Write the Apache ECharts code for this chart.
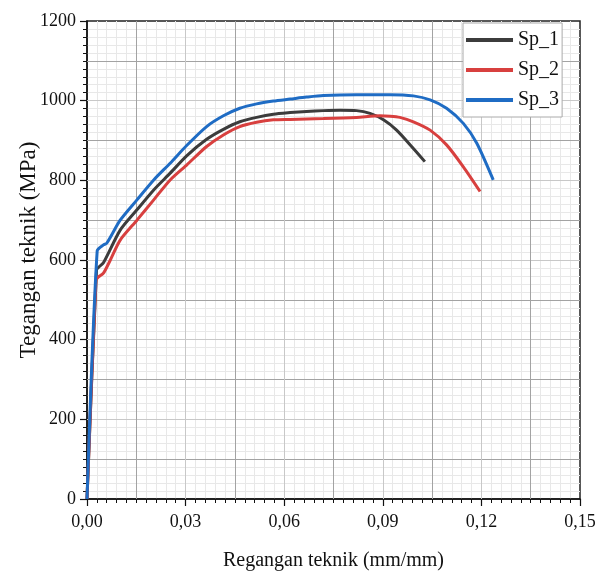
<!DOCTYPE html>
<html>
<head>
<meta charset="utf-8">
<style>html,body{margin:0;padding:0;background:#fff;}#chart{width:602px;height:572px;}</style>
<script src="https://cdn.jsdelivr.net/npm/echarts@6/dist/echarts.min.js"></script>
</head>
<body>
<div id="chart"></div>
<script>
// ---- data ----
var seriesNames = ['Sp_1', 'Sp_2', 'Sp_3'];
var sp1Strain = [0, 0.0029, 0.0037, 0.005, 0.0101, 0.0152, 0.0203, 0.0253, 0.0304, 0.0364, 0.0415, 0.0465, 0.0516, 0.0567, 0.0618, 0.0668, 0.0719, 0.077, 0.082, 0.0861, 0.0902, 0.0942, 0.0993, 0.1028];
var sp1Stress = [0, 575, 583, 593, 675, 726, 776, 818, 862, 903, 928, 947, 958, 966, 970, 973, 975, 976, 975, 968, 952, 926, 880, 847];
var sp2Strain = [0, 0.0027, 0.0034, 0.005, 0.0071, 0.0101, 0.0152, 0.0203, 0.0253, 0.0304, 0.0364, 0.0415, 0.0465, 0.0516, 0.0567, 0.0618, 0.0719, 0.082, 0.0891, 0.0922, 0.0952, 0.0993, 0.1044, 0.1094, 0.1145, 0.1196];
var sp2Stress = [0, 548, 557, 567, 600, 650, 700, 751, 801, 839, 885, 914, 935, 946, 952, 953, 955, 958, 962, 961, 958, 947, 926, 889, 834, 772];
var sp3Strain = [0, 0.0031, 0.005, 0.006, 0.0101, 0.0152, 0.0203, 0.0253, 0.0304, 0.0364, 0.0415, 0.0465, 0.0516, 0.0567, 0.0618, 0.0668, 0.0719, 0.082, 0.0891, 0.0922, 0.0993, 0.1044, 0.1094, 0.1145, 0.1186, 0.1236];
var sp3Stress = [0, 623, 638, 642, 700, 751, 801, 843, 888, 935, 962, 981, 992, 999, 1004, 1009, 1013, 1015, 1015, 1015, 1012, 1002, 981, 943, 893, 801];
var xTickLabels = ['0,00', '0,03', '0,06', '0,09', '0,12', '0,15'];
var yTickLabels = ['0', '200', '400', '600', '800', '1000', '1200'];
var xTitle = 'Regangan teknik (mm/mm)';
var yTitle = 'Tegangan teknik (MPa)';

function pairs(xs, ys) { return xs.map(function (x, i) { return [x, ys[i]]; }); }

var FONT = "'Liberation Serif', 'Times New Roman', serif";
var colors = ['#3c3c3c', '#d8403f', '#1f6cc4'];

var chart = echarts.init(document.getElementById('chart'), null, { renderer: 'canvas' });
function mkSeries(i, xs, ys) {
  return { name: seriesNames[i], type: 'line', data: pairs(xs, ys), symbol: 'none', showSymbol: false,
    smooth: 0.25, z: 3,
    lineStyle: { color: colors[i], width: 3 }, itemStyle: { color: colors[i] } };
}
chart.setOption({
  animation: false,
  backgroundColor: '#fff',
  grid: { left: 87, top: 21, right: 22, bottom: 73, outerBoundsMode: 'none', containLabel: false,
    show: true, borderColor: '#222', borderWidth: 1.5, backgroundColor: 'transparent' },
  legend: {
    data: seriesNames, orient: 'vertical', left: 463, top: 23,
    icon: 'rect', itemWidth: 47, itemHeight: 4, itemGap: 10, padding: [7, 3, 7, 3],
    backgroundColor: '#fff', borderColor: '#aaa', borderWidth: 1, borderRadius: 0,
    textStyle: { fontFamily: FONT, fontSize: 20, color: '#111', lineHeight: 20, height: 20 }
  },
  xAxis: [
    {
      type: 'value', min: 0, max: 0.15, interval: 0.03,
      name: xTitle, nameLocation: 'middle', nameGap: 52, nameMoveOverlap: false,
      nameTextStyle: { fontFamily: FONT, fontSize: 20, color: '#111' },
      axisLine: { show: true, onZero: false, lineStyle: { color: '#111', width: 1.5 } },
      axisTick: { show: true, inside: false, length: 7, lineStyle: { color: '#111', width: 1.2 } },
      minorTick: { show: true, splitNumber: 10, length: 4, lineStyle: { color: '#111', width: 1 } },
      splitLine: { show: false },
      minorSplitLine: { show: true, lineStyle: { color: '#e8e8e8', width: 1 } },
      axisLabel: { margin: 14, fontFamily: FONT, fontSize: 18, color: '#111',
        formatter: function (v) { return xTickLabels[Math.round(v / 0.03)]; } }
    },
    {
      type: 'value', min: 0, max: 0.15, interval: 0.015, z: 1,
      axisLine: { show: false }, axisTick: { show: false }, axisLabel: { show: false },
      splitLine: { show: true, showMinLine: false, showMaxLine: false, lineStyle: { color: ['#a3a3a3', '#c8c8c8'], width: 1 } }
    }
  ],
  yAxis: [
    {
      type: 'value', min: 0, max: 1200, interval: 200,
      name: yTitle, nameLocation: 'middle', nameGap: 47, nameRotate: 90, nameMoveOverlap: false,
      nameTextStyle: { fontFamily: FONT, fontSize: 23, color: '#111', padding: [0, 0, 0, 20] },
      axisLine: { show: true, onZero: false, lineStyle: { color: '#111', width: 1.5 } },
      axisTick: { show: true, inside: false, length: 7, lineStyle: { color: '#111', width: 1.2 } },
      minorTick: { show: true, splitNumber: 10, length: 4, lineStyle: { color: '#111', width: 1 } },
      splitLine: { show: false },
      minorSplitLine: { show: true, lineStyle: { color: '#e8e8e8', width: 1 } },
      axisLabel: { margin: 11, fontFamily: FONT, fontSize: 18, color: '#111',
        formatter: function (v) { return yTickLabels[Math.round(v / 200)]; } }
    },
    {
      type: 'value', min: 0, max: 1200, interval: 100, z: 1,
      axisLine: { show: false }, axisTick: { show: false }, axisLabel: { show: false },
      splitLine: { show: true, showMinLine: false, showMaxLine: false, lineStyle: { color: ['#a3a3a3', '#c8c8c8'], width: 1 } }
    }
  ],
  series: [
    mkSeries(0, sp1Strain, sp1Stress),
    mkSeries(1, sp2Strain, sp2Stress),
    mkSeries(2, sp3Strain, sp3Stress)
  ]
});
</script>
</body>
</html>
